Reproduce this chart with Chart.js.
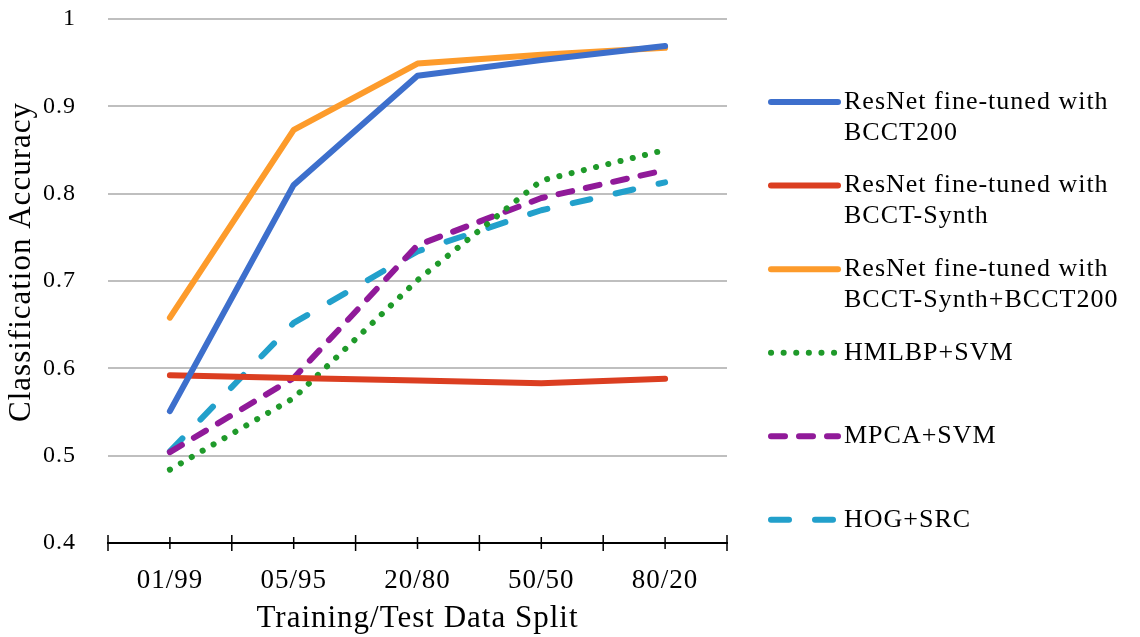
<!DOCTYPE html>
<html>
<head>
<meta charset="utf-8">
<script src="https://cdn.jsdelivr.net/npm/chart.js@4"></script>
<style>
  html, body { margin: 0; padding: 0; background: #fff; }
  #wrap { width: 1140px; height: 637px; }
</style>
</head>
<body>
<div id="wrap"><canvas id="chart" width="1140" height="637"></canvas></div>
<script>
// Datos
const splits = ['01/99', '05/95', '20/80', '50/50', '80/20'];

const resnetBcct200 = [0.551, 0.810, 0.935, 0.953, 0.969];
const resnetSynth = [0.592, 0.589, 0.586, 0.583, 0.588];
const resnetSynthBcct200 = [0.658, 0.873, 0.949, 0.959, 0.967];
const hmlbpSvm = [0.484, 0.566, 0.701, 0.815, 0.850];
const mpcaSvm = [0.504, 0.589, 0.741, 0.795, 0.827];
const hogSrc = [0.505, 0.652, 0.734, 0.781, 0.813];

const seriesLabels = [
    ['ResNet fine-tuned with', 'BCCT200'],
    ['ResNet fine-tuned with', 'BCCT-Synth'],
    ['ResNet fine-tuned with', 'BCCT-Synth+BCCT200'],
    ['HMLBP+SVM'],
    ['MPCA+SVM'],
    ['HOG+SRC']
];

const yTitle = 'Classification Accuracy';
const xTitle = 'Training/Test Data Split';

const yMin = 0.4, yMax = 1.0, yStep = 0.1;

const FONT = '"Liberation Serif", "DejaVu Serif", serif';

// Espaciado de letras para acercarse al ancho de Computer Modern
const spacing = {
    id: 'spacing',
    beforeUpdate(chart) { chart.ctx.letterSpacing = '1px'; },
    beforeDraw(chart) { chart.ctx.letterSpacing = '1px'; }
};

// Leyenda dibujada a mano (etiquetas en varias líneas) y título del eje Y
const sideLegend = {
    id: 'sideLegend',
    afterDraw(chart) {
        const ctx = chart.ctx;
        const area = chart.chartArea;
        const x0 = area.right + 44;
        const x1 = x0 + 67;
        const step = (area.bottom - area.top) / 6.27;
        ctx.save();
        chart.data.datasets.forEach((ds, i) => {
            const y = area.top + 83 + i * step;
            ctx.beginPath();
            ctx.strokeStyle = ds.borderColor;
            ctx.lineWidth = ds.borderWidth;
            ctx.lineCap = 'round';
            ctx.setLineDash(ds.borderDash || []);
            ctx.moveTo(x0, y);
            ctx.lineTo(x1, y);
            ctx.stroke();
            ctx.setLineDash([]);
            ctx.fillStyle = '#000';
            ctx.font = '26px ' + FONT;
            ctx.letterSpacing = '1px';
            ctx.textBaseline = 'middle';
            ctx.textAlign = 'left';
            seriesLabels[i].forEach((line, j) => {
                ctx.fillText(line, x1 + 6, y + j * 31);
            });
        });

        // título Y (un poco por encima del centro, como en el original)
        ctx.translate(22, (area.top + area.bottom) / 2 - 19);
        ctx.rotate(-Math.PI / 2);
        ctx.font = '31px ' + FONT;
        ctx.letterSpacing = '1px';
        ctx.textAlign = 'center';
        ctx.textBaseline = 'middle';
        ctx.fillStyle = '#000';
        ctx.fillText(yTitle, 0, 0);
        ctx.restore();
    }
};

// Marcas del eje X (entre categorías y en el centro)
const xTicks = {
    id: 'xTicks',
    afterDraw(chart) {
        const ctx = chart.ctx;
        const sx = chart.scales.x;
        const n = splits.length;
        const y = sx.top;
        ctx.save();
        ctx.strokeStyle = '#000';
        ctx.lineWidth = 1.5;
        ctx.beginPath();
        for (let i = 0; i <= n; i++) {
            const px = sx.left + i * (sx.width / n);
            ctx.moveTo(px, y - 8);
            ctx.lineTo(px, y + 8);
        }
        for (let i = 0; i < n; i++) {
            const px = sx.getPixelForValue(i);
            ctx.moveTo(px, y - 6);
            ctx.lineTo(px, y + 6);
        }
        ctx.stroke();
        ctx.restore();
    }
};

function line(label, data, color, dash) {
    return {
        label: label,
        data: data,
        borderColor: color,
        backgroundColor: color,
        borderWidth: 6,
        borderDash: dash,
        borderCapStyle: 'round',
        borderJoinStyle: 'round',
        pointRadius: 0,
        tension: 0,
        fill: false
    };
}

new Chart(document.getElementById('chart').getContext('2d'), {
    type: 'line',
    data: {
        labels: splits,
        datasets: [
            line(seriesLabels[0].join(' '), resnetBcct200, '#3d6fcc', []),
            line(seriesLabels[1].join(' '), resnetSynth, '#db3e21', []),
            line(seriesLabels[2].join(' '), resnetSynthBcct200, '#fd9b2b', []),
            line(seriesLabels[3].join(' '), hmlbpSvm, '#1f9a2a', [0.1, 12.5]),
            line(seriesLabels[4].join(' '), mpcaSvm, '#901a99', [14, 14]),
            line(seriesLabels[5].join(' '), hogSrc, '#22a0cb', [18, 26])
        ]
    },
    options: {
        responsive: false,
        animation: false,
        layout: { padding: { top: 19, right: 413, bottom: 0, left: 0 } },
        plugins: {
            legend: { display: false },
            tooltip: { enabled: false }
        },
        scales: {
            x: {
                offset: true,
                grid: { display: false, drawTicks: false },
                border: { display: true, color: '#000', width: 2 },
                ticks: { color: '#000', font: { family: FONT, size: 27 }, padding: 22 },
                title: {
                    display: true,
                    text: xTitle,
                    color: '#000',
                    font: { family: FONT, size: 31 },
                    padding: { top: 0, bottom: 0 }
                },
                afterFit(scale) { scale.height = 94; }
            },
            y: {
                min: yMin,
                max: yMax,
                ticks: {
                    stepSize: yStep,
                    color: '#000',
                    font: { family: FONT, size: 24 },
                    padding: 0,
                    callback: v => (Math.abs(v - 1) < 1e-9 ? '1' : v.toFixed(1))
                },
                grid: {
                    drawTicks: true,
                    tickLength: 32,
                    tickColor: 'rgba(0,0,0,0)',
                    lineWidth: 2,
                    color: ctx => (ctx.tick && Math.abs(ctx.tick.value - yMin) < 1e-9 ? 'rgba(0,0,0,0)' : '#bfbfbf')
                },
                border: { display: false },
                afterFit(scale) { scale.width = 108; }
            }
        }
    },
    plugins: [spacing, xTicks, sideLegend]
});
</script>
</body>
</html>
